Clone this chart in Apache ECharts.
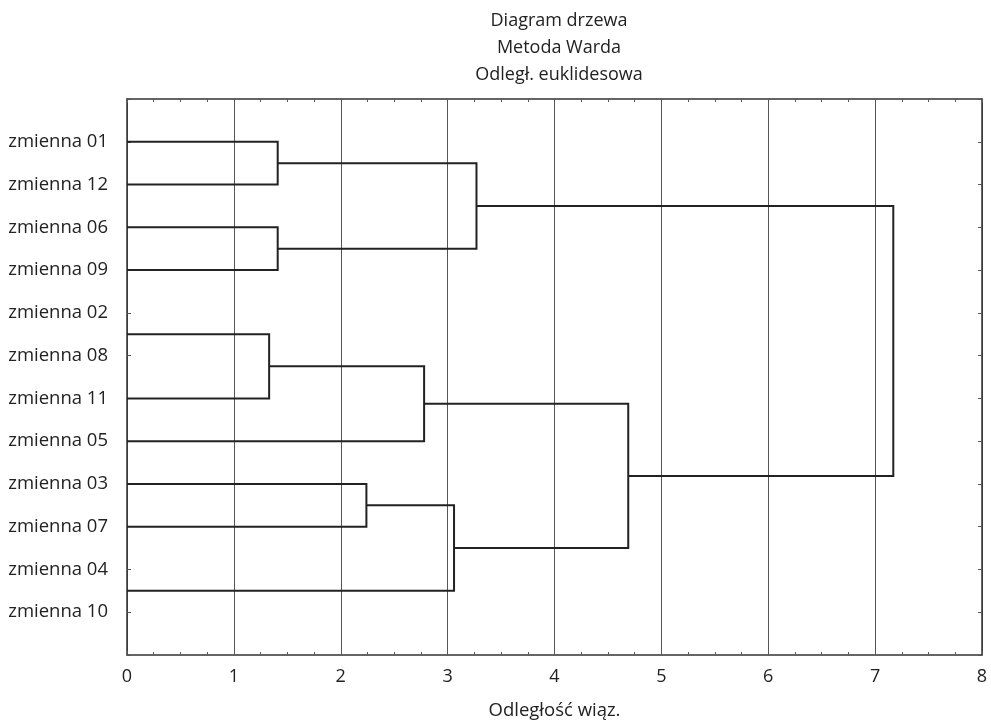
<!DOCTYPE html>
<html>
<head>
<meta charset="utf-8">
<script src="https://cdn.jsdelivr.net/npm/echarts@6/dist/echarts.min.js"></script>
<style>html,body{margin:0;padding:0;background:#fff}#c{width:991px;height:726px}</style>
</head>
<body>
<div id="c"></div>
<script>
// Leaf labels along the vertical axis (positions 1..12)
const categories = ['zmienna 01','zmienna 12','zmienna 06','zmienna 09','zmienna 02','zmienna 08',
  'zmienna 11','zmienna 05','zmienna 03','zmienna 07','zmienna 04','zmienna 10'];
// Vertical positions of the leaf ends of the drawn tree
const leafPositions = [1, 2, 3, 4, 5.5, 7, 8, 9, 10, 11.5];
// Merges: left node, right node, linkage distance
const mergeLeft = ['L0', 'L2', 'M0', 'L4', 'M3', 'L7', 'M5', 'M4', 'M2'];
const mergeRight = ['L1', 'L3', 'M1', 'L5', 'L6', 'L8', 'L9', 'M6', 'M7'];
const mergeDistance = [1.41, 1.41, 3.27, 1.33, 2.78, 2.24, 3.06, 4.69, 7.17];
const xTicks = [0, 1, 2, 3, 4, 5, 6, 7, 8];

const nodes = {};
leafPositions.forEach((y, i) => { nodes['L' + i] = { x: 0, y: y }; });
const segData = [];
mergeDistance.forEach((d, i) => {
  const a = nodes[mergeLeft[i]], b = nodes[mergeRight[i]];
  segData.push([a.x, a.y, d, b.x, b.y]);
  nodes['M' + i] = { x: d, y: (a.y + b.y) / 2 };
});

const FONT = 'Open Sans';
const chart = echarts.init(document.getElementById('c'));
const yBase = {
  type: 'value', min: 0, max: 13, interval: 1, inverse: true,
  splitLine: { show: false },
  axisLine: { show: true, onZero: false, lineStyle: { color: '#333', width: 1.5 } },
  axisTick: { show: true, inside: true, length: 4, lineStyle: { color: '#555' } }
};
chart.setOption({
  animation: false,
  backgroundColor: '#fff',
  title: {
    text: 'Diagram drzewa\nMetoda Warda\nOdległ. euklidesowa',
    left: 554, top: 2, textAlign: 'center',
    textStyle: { fontFamily: FONT, fontSize: 18, fontWeight: 'normal', color: '#222', lineHeight: 27 }
  },
  grid: { left: 127, right: 9, top: 99, bottom: 71, containLabel: false },
  xAxis: [{
    type: 'value', min: 0, max: 8, interval: 1, position: 'bottom',
    name: 'Odległość wiąz.', nameLocation: 'middle', nameGap: 46,
    nameTextStyle: { fontFamily: FONT, fontSize: 18.5, color: '#222' },
    axisLabel: { fontFamily: FONT, fontSize: 18, color: '#222', margin: 13,
      formatter: v => xTicks.includes(v) ? String(v) : '' },
    axisLine: { show: true, onZero: false, lineStyle: { color: '#333', width: 1.5 } },
    axisTick: { show: true, inside: true, length: 4, lineStyle: { color: '#555' } },
    minorTick: { show: true, splitNumber: 4, length: 3, lineStyle: { color: '#555' } },
    splitLine: { show: true, lineStyle: { color: '#555', width: 1 } }
  }, {
    type: 'value', min: 0, max: 8, interval: 1, position: 'top',
    axisLabel: { show: false },
    axisLine: { show: true, onZero: false, lineStyle: { color: '#333', width: 1.5 } },
    axisTick: { show: true, inside: true, length: 4, lineStyle: { color: '#555' } },
    minorTick: { show: true, splitNumber: 4, length: 3, lineStyle: { color: '#555' } },
    splitLine: { show: false }
  }],
  yAxis: [Object.assign({}, yBase, {
    position: 'left',
    axisLabel: { show: true, fontFamily: FONT, fontSize: 18.5, color: '#222', margin: 19, align: 'right',
      formatter: v => (v >= 1 && v <= 12 && Number.isInteger(v)) ? categories[v - 1] : '' }
  }), Object.assign({}, yBase, {
    position: 'right',
    axisLabel: { show: false }
  })],
  series: [{
    type: 'custom',
    xAxisIndex: 0, yAxisIndex: 0,
    data: segData,
    encode: { x: [0, 2, 3], y: [1, 4] },
    renderItem: function (params, api) {
      const p0 = api.coord([api.value(0), api.value(1)]);
      const p1 = api.coord([api.value(2), api.value(1)]);
      const p2 = api.coord([api.value(2), api.value(4)]);
      const p3 = api.coord([api.value(3), api.value(4)]);
      return {
        type: 'polyline',
        shape: { points: [p0, p1, p2, p3] },
        style: { stroke: '#222', lineWidth: 2, fill: null }
      };
    }
  }]
});
</script>
</body>
</html>
